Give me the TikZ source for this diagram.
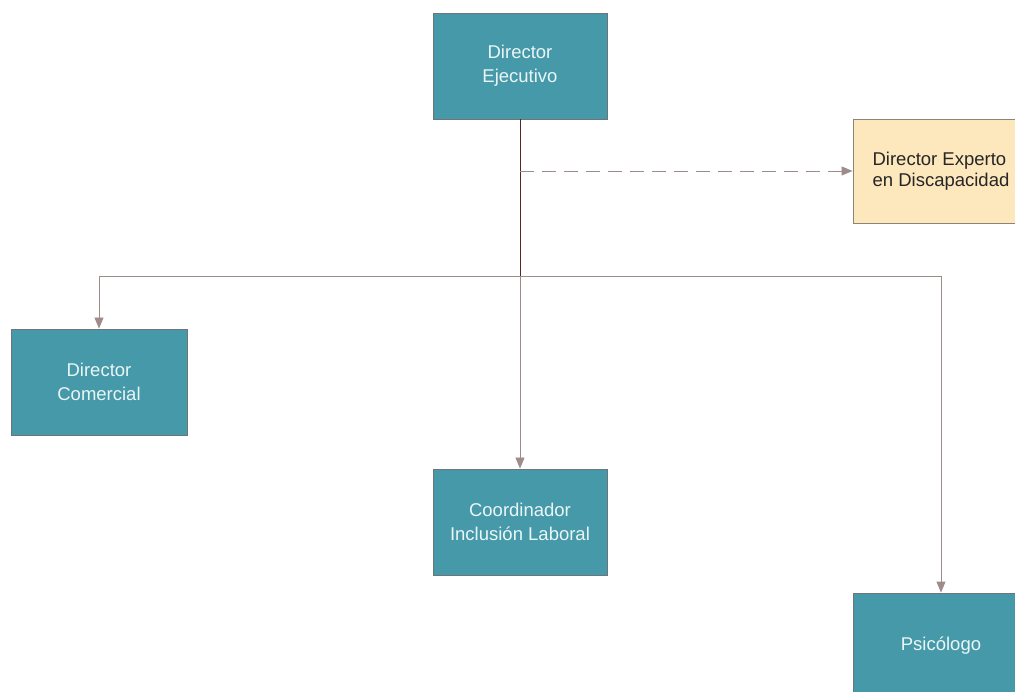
\documentclass[tikz,border=0pt]{standalone}
\usepackage{fontspec}
\setmainfont{Liberation Sans}
\usetikzlibrary{arrows.meta}
\definecolor{boxteal}{HTML}{4699A9}
\definecolor{boxedge}{HTML}{6E7478}
\definecolor{notefill}{HTML}{FDE7BC}
\definecolor{noteedge}{HTML}{8C8478}
\definecolor{linkgray}{HTML}{9E8C8A}
\definecolor{trunk}{HTML}{5A2424}
\definecolor{labelwhite}{HTML}{EAF6F6}
\tikzset{
  x=1pt, y=-1pt,
  orgbox/.style={draw=boxedge, line width=0.9pt, fill=boxteal, text=labelwhite,
    minimum width=174pt, minimum height=106pt, align=center,
    font=\fontsize{18.5}{24}\selectfont, inner sep=0pt},
  notebox/.style={draw=noteedge, line width=0.9pt, fill=notefill, text=black!85,
    minimum width=176pt, minimum height=104pt, align=left,
    font=\fontsize{18.5}{21}\selectfont, inner sep=0pt},
  link/.style={draw=linkgray, line width=0.9pt, -{Triangle[length=11pt,width=9pt]}},
  dashlink/.style={link, dash pattern=on 14pt off 8pt},
}
\begin{document}
\begin{tikzpicture}
\useasboundingbox (0,0) rectangle (1015,692);
\clip (0,0) rectangle (1015,692);
\fill[white] (0,0) rectangle (1015,692);

% boxes
\node[orgbox] (ceo) at (520,66) {Director\\Ejecutivo};
\node[notebox] (expert) at (941,171) {Director Experto\\en Discapacidad};
\node[orgbox, minimum width=176pt] (sales) at (99,382) {Director\\Comercial};
\node[orgbox] (coord) at (520,522) {Coordinador\\Inclusión Laboral};
\node[orgbox, minimum width=176pt] (psych) at (941,646) {Psicólogo};

% junction points on the trunk
\coordinate (adv) at (520,171);
\coordinate (hub) at (520,276);
\coordinate (left) at (99,276);
\coordinate (right) at (941,276);

% connectors
\draw[linkgray, line width=0.9pt] (left) -- (right);
\draw[trunk, line width=1pt] (ceo.south) -- (hub);
\draw[dashlink] (adv) -- (expert.west);
\draw[link] (left) -- (sales.north);
\draw[link] (hub) -- (coord.north);
\draw[link] (right) -- (psych.north);
\end{tikzpicture}
\end{document}
